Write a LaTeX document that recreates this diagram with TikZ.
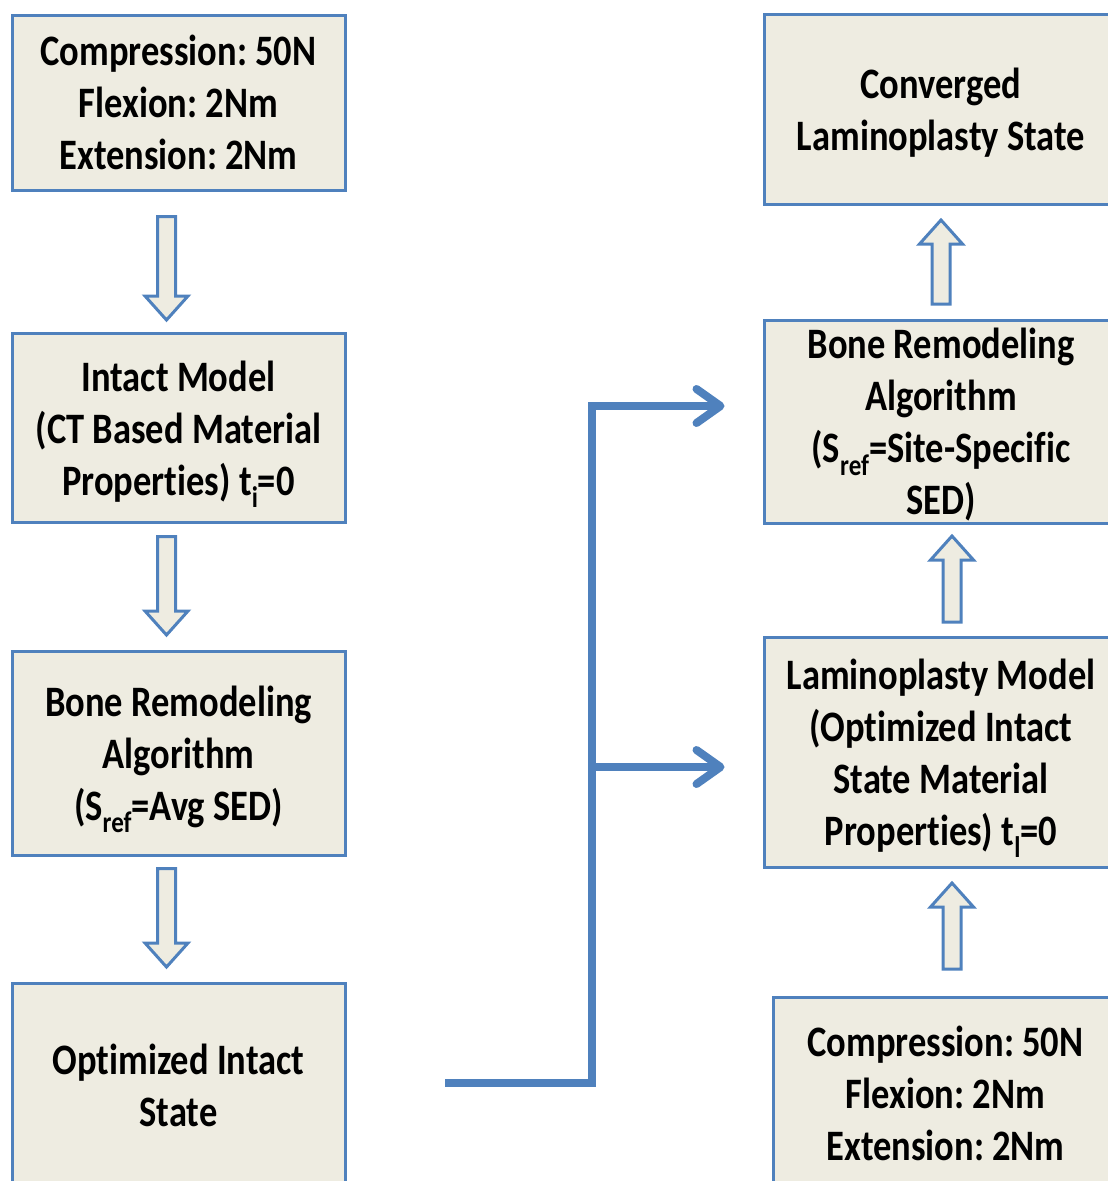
\documentclass[tikz,border=0pt]{standalone}
\usepackage{fontspec}
\setmainfont{Carlito}[Ligatures=NoCommon]
\usetikzlibrary{arrows.meta,calc}
\definecolor{boxblue}{HTML}{4F81BD}
\definecolor{boxfill}{HTML}{EEECE1}
\frenchspacing
\newcommand\sbs[1]{\raisebox{-0.28em}{\fontsize{25}{25}\selectfont #1}}
\newcommand\boxtext[1]{\raisebox{-5pt}[\dimexpr\height-20pt\relax][\dimexpr\depth-20pt\relax]{\scalebox{1}[1.19]{\begin{tabular}{@{}c@{}}#1\end{tabular}}}}
\newcommand\bdown[3]{\draw[barrow] (#1-9,#2) -- (#1+9,#2) -- (#1+9,#3-24) -- (#1+21.5,#3-24) -- (#1,#3) -- (#1-21.5,#3-24) -- (#1-9,#3-24) -- cycle;}
\newcommand\bup[3]{\draw[barrow] (#1-9,#2) -- (#1+9,#2) -- (#1+9,#3+24) -- (#1+21.5,#3+24) -- (#1,#3) -- (#1-21.5,#3+24) -- (#1-9,#3+24) -- cycle;}
\begin{document}
\begin{tikzpicture}[x=1pt,y=-1pt,
  box/.style={draw=boxblue, fill=boxfill, line width=3pt, rectangle, inner sep=0pt,
    font=\fontsize{36.5}{43.7}\selectfont\bfseries\frenchspacing, text=black},
  barrow/.style={draw=boxblue, fill=boxfill, line width=3pt, line join=miter},
  conn/.style={draw=boxblue, line width=8pt, line join=miter,
    -{Straight Barb[length=24pt,width=34pt,round]}}]
\useasboundingbox (0,0) rectangle (1108,1181);
% left column
\node[box, minimum width=333, minimum height=175] (b1) at (178.5,102.5)
  {\boxtext{Compression: 50N\\Flexion: 2Nm\\Extension: 2Nm}};
\node[box, minimum width=333, minimum height=189] (b2) at (178.5,428)
  {\boxtext{Intact Model\\(CT Based Material\\Properties) t\sbs{i}=0}};
\node[box, minimum width=333, minimum height=204] (b3) at (178.5,753)
  {\boxtext{Bone Remodeling\\Algorithm\\(S\sbs{ref}=Avg SED)}};
\node[box, minimum width=333, minimum height=204] (b4) at (178.5,1085)
  {\boxtext{Optimized Intact\\State}};
% right column
\node[box, minimum width=354, minimum height=190] (b5) at (941,109.5)
  {\boxtext{Converged\\Laminoplasty State}};
\node[box, minimum width=354, minimum height=203] (b6) at (941,421.5)
  {\boxtext{Bone Remodeling\\Algorithm\\(S\sbs{ref}=Site-Specific\\SED)}};
\node[box, minimum width=354, minimum height=230] (b7) at (941,752)
  {\boxtext{Laminoplasty Model\\(Optimized Intact\\State Material\\Properties) t\sbs{l}=0}};
\node[box, minimum width=345, minimum height=192] (b8) at (945.5,1093)
  {\boxtext{Compression: 50N\\Flexion: 2Nm\\Extension: 2Nm}};
% block arrows
\bdown{166.5}{216.5}{320}
\bdown{166.5}{536.5}{635}
\bdown{166.5}{868.5}{967}
\bup{941}{304}{220}
\bup{952}{622}{536}
\bup{952}{969}{883}
% connectors
\coordinate (start) at (445,1083);
\coordinate (bend) at (592,406);
\coordinate (branch) at (592,767);
\draw[conn, shorten >=38pt] (start) -| (bend) -- (b6.west |- bend);
\draw[conn, shorten >=38pt] (branch) -- (b7.west |- branch);
\end{tikzpicture}
\end{document}
